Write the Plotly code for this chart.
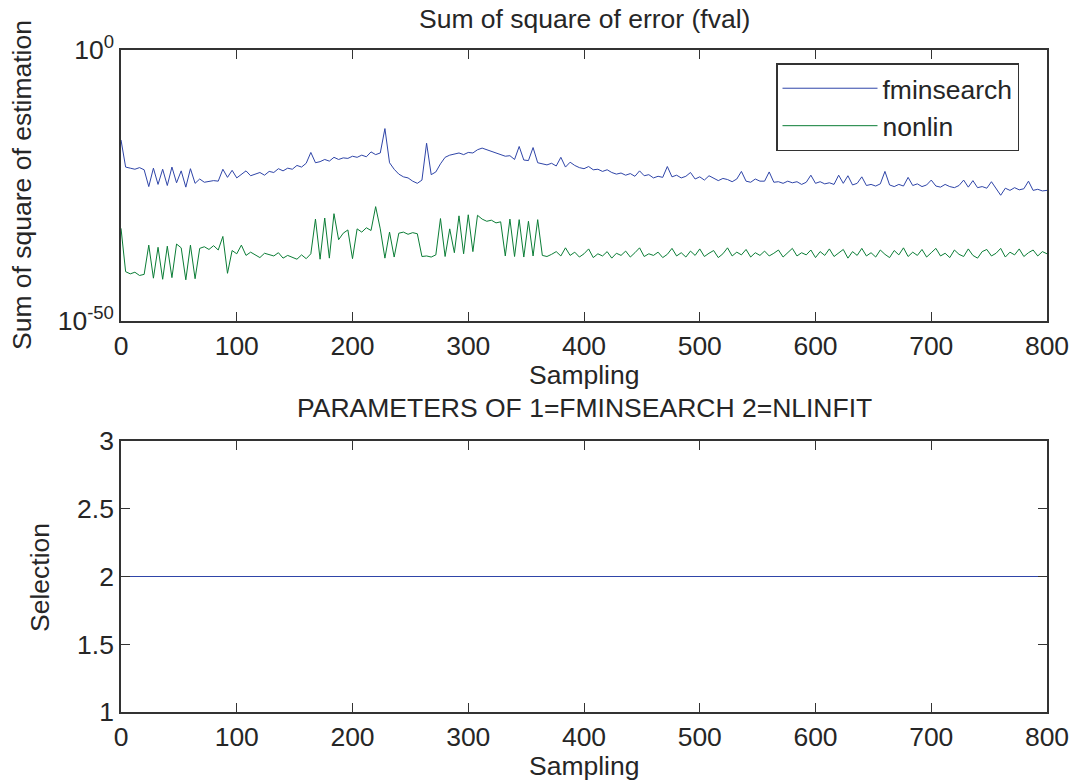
import plotly.graph_objects as go

# Sampling index (every 4th sample)
sampling = list(range(0, 801, 4))

# log10 of the sum of squared error, fminsearch (blue)
fmin_log10 = [
    -16.6, -21.6, -21.8, -22.0, -21.7, -22.1, -25.2, -21.8, -24.8, -22.0,
    -25.0, -21.6, -24.5, -22.3, -25.3, -21.9, -24.6, -23.8, -24.4, -24.3,
    -24.1, -24.2, -22.0, -23.5, -22.2, -23.6, -23.0, -22.3, -23.2, -22.9,
    -22.6, -23.1, -22.4, -22.6, -21.9, -22.3, -21.8, -22.0, -21.3, -21.6,
    -20.9, -18.9, -20.8, -20.6, -20.2, -20.5, -19.8, -20.2, -19.9, -20.0,
    -19.6, -19.8, -19.4, -19.7, -18.8, -19.3, -19.0, -14.5, -20.8, -22.0,
    -22.9, -23.4, -23.6, -24.2, -24.6, -24.0, -17.2, -23.0, -22.5, -21.0,
    -19.8, -19.4, -19.2, -19.0, -19.3, -18.9, -19.0, -18.4, -18.1, -18.4,
    -18.8, -19.0, -19.3, -19.6, -19.5, -20.2, -17.8, -20.3, -20.4, -18.0,
    -20.8, -21.0, -21.2, -20.9, -21.4, -19.8, -21.6, -20.7, -21.3, -21.7,
    -21.9, -21.5, -22.1, -22.0, -22.4, -22.1, -22.6, -22.9, -22.7, -23.1,
    -22.8, -23.3, -22.3, -23.2, -23.0, -23.6, -23.3, -23.5, -21.5, -23.4,
    -23.1, -23.6, -23.3, -22.6, -23.8, -23.4, -24.0, -23.2, -23.6, -24.1,
    -23.7, -23.9, -24.3, -23.8, -22.4, -24.2, -24.4, -23.8, -24.2, -24.2,
    -22.5, -24.4, -24.3, -24.6, -24.2, -24.5, -24.3, -24.8, -24.4, -23.1,
    -24.6, -24.3, -24.7, -24.5, -24.8, -23.1, -24.6, -23.2, -24.9, -24.6,
    -23.4, -25.0, -24.8, -25.1, -24.7, -22.4, -24.9, -25.2, -24.8, -25.1,
    -23.5, -25.0, -24.7, -25.2, -24.9, -24.0, -25.1, -25.3, -24.8, -25.2,
    -25.4, -25.0, -24.0, -25.3, -24.1, -25.4, -25.2, -25.5, -24.3, -25.6,
    -26.8, -25.5, -25.9, -25.4, -25.8, -25.6, -24.2, -25.9, -25.7, -26.0,
    -25.9,
]

# log10 of the sum of squared error, nonlin (green)
nonlin_log10 = [
    -32.9, -40.9, -41.3, -41.0, -41.6, -41.4, -36.0, -42.1, -36.4, -42.3,
    -36.2, -42.0, -35.8, -36.5, -42.4, -36.0, -42.2, -36.6, -36.3, -36.8,
    -36.1, -36.9, -34.4, -41.2, -37.0, -37.6, -36.0, -37.9, -37.3, -37.8,
    -38.3, -37.5, -37.7, -38.0, -37.4, -38.4, -37.9, -38.2, -38.6, -37.8,
    -38.5, -37.6, -31.2, -38.6, -31.0, -38.4, -30.2, -35.0, -33.8, -33.2,
    -38.5, -33.0, -33.6, -32.8, -33.3, -28.9, -33.0, -38.4, -33.6, -38.2,
    -33.8, -33.6, -34.0, -33.7, -33.9, -38.1, -38.0, -38.2, -37.8, -31.1,
    -38.1, -33.0, -37.4, -30.6, -37.6, -30.4, -37.2, -30.5, -31.2, -31.6,
    -31.4, -31.9, -31.7, -38.0, -31.2, -38.1, -31.3, -38.2, -31.6, -38.0,
    -31.3, -37.9, -38.1, -37.7, -37.2, -38.0, -36.5, -37.9, -37.3, -38.2,
    -37.6, -36.7, -38.3, -37.6, -38.0, -37.2, -38.4, -37.5, -37.9, -37.1,
    -38.2, -37.4, -36.5, -38.1, -37.6, -37.9, -37.3, -38.3, -37.7, -36.6,
    -38.0, -37.4, -38.2, -37.1, -37.9, -36.7, -38.1, -37.5, -37.0, -38.3,
    -37.6, -36.5, -38.0, -37.3, -37.8, -36.8, -38.2, -37.4, -37.9, -37.1,
    -38.0, -37.5, -36.9, -38.2, -37.3, -36.6, -38.0, -37.4, -37.8, -36.9,
    -38.3, -37.2, -37.9, -36.7, -38.1, -37.5, -36.8, -38.4, -37.2, -37.9,
    -36.6, -38.0, -37.4, -38.2, -36.9, -37.7, -38.3, -37.0, -37.8, -36.5,
    -38.1, -37.3, -37.9, -36.8, -38.2, -37.4, -36.6, -38.0, -37.5, -38.3,
    -36.9, -37.7, -38.1, -36.7, -37.9, -38.4, -37.2, -36.8, -38.0, -37.5,
    -36.6, -38.2, -37.3, -37.8, -36.7, -38.1, -37.4, -36.9, -38.0, -37.2,
    -37.6,
]

# Selected method (2 = NLINFIT) at every sample
selection = [2] * len(sampling)

x_ticks = [0, 100, 200, 300, 400, 500, 600, 700, 800]
top_ytick_vals = [1e-50, 1e0]
top_ytick_text = ["10<sup>-50</sup>", "10<sup>0</sup>"]
bot_ytick_vals = [1, 1.5, 2, 2.5, 3]
bot_ytick_text = ["1", "1.5", "2", "2.5", "3"]

assert len(fmin_log10) == len(sampling)
assert len(nonlin_log10) == len(sampling)

fmin_vals = [10 ** e for e in fmin_log10]
nonlin_vals = [10 ** e for e in nonlin_log10]

W, H = 1077, 784
FONT = "Liberation Sans, Arial, sans-serif"
FS = 26.5
TXT = "#262626"
AX = "#333333"
BLUE = "#2f45a8"
GREEN = "#0b7d36"

xd = [121 / W, 1047 / W]
top_d = [1 - 321 / H, 1 - 50 / H]
bot_d = [1 - 712 / H, 1 - 441 / H]

fig = go.Figure()
fig.add_trace(go.Scatter(x=sampling, y=fmin_vals, mode="lines", name="fminsearch",
                         line=dict(color=BLUE, width=1), xaxis="x", yaxis="y"))
fig.add_trace(go.Scatter(x=sampling, y=nonlin_vals, mode="lines", name="nonlin",
                         line=dict(color=GREEN, width=1), xaxis="x", yaxis="y"))
fig.add_trace(go.Scatter(x=sampling, y=selection, mode="lines", name="selection",
                         line=dict(color=BLUE, width=1), xaxis="x2", yaxis="y2",
                         showlegend=False))

axis_common = dict(showline=True, linecolor=AX, linewidth=1.5, mirror="ticks",
                   ticks="inside", ticklen=9, tickcolor=AX, tickwidth=1,
                   showgrid=False, zeroline=False, automargin=False,
                   tickfont=dict(family=FONT, size=FS, color=TXT))

fig.update_layout(
    template="none",
    width=W, height=H,
    margin=dict(l=0, r=0, t=0, b=0, autoexpand=False),
    paper_bgcolor="white", plot_bgcolor="white",
    font=dict(family=FONT, size=FS, color=TXT),
    xaxis=dict(domain=xd, range=[0, 800], tickvals=x_ticks, anchor="y", **axis_common),
    yaxis=dict(domain=top_d, type="log", range=[-50, 0], tickvals=top_ytick_vals,
               ticktext=top_ytick_text, anchor="x", **axis_common),
    xaxis2=dict(domain=xd, range=[0, 800], tickvals=x_ticks, anchor="y2", **axis_common),
    yaxis2=dict(domain=bot_d, range=[1, 3], tickvals=bot_ytick_vals,
                ticktext=bot_ytick_text, anchor="x2", **axis_common),
    legend=dict(x=776 / W, y=1 - 63 / H, xanchor="left", yanchor="top",
                bgcolor="white", bordercolor=AX, borderwidth=1.5,
                font=dict(family=FONT, size=FS, color=TXT),
                itemwidth=95, tracegroupgap=0),
    showlegend=True,
)

ann = [
    dict(text="Sum of square of error (fval)", x=584 / W, y=1 - 19 / H),
    dict(text="Sampling", x=584 / W, y=1 - 375 / H),
    dict(text="PARAMETERS OF 1=FMINSEARCH 2=NLINFIT", x=584 / W, y=1 - 408 / H),
    dict(text="Sampling", x=584 / W, y=1 - 766 / H),
    dict(text="Sum of square of estimation", x=22 / W, y=1 - 185 / H, textangle=-90),
    dict(text="Selection", x=40 / W, y=1 - 577 / H, textangle=-90),
]
for a in ann:
    fig.add_annotation(xref="paper", yref="paper", xanchor="center", yanchor="middle",
                       showarrow=False, font=dict(family=FONT, size=FS, color=TXT), **a)

fig.write_html("out.html",
               config={"displayModeBar": False},
               post_script="document.body.style.margin='0';document.body.style.padding='0';")
